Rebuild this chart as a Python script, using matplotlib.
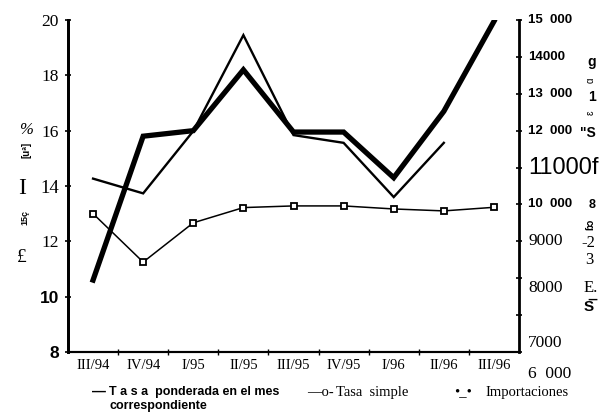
import matplotlib
matplotlib.use("Agg")
import matplotlib.pyplot as plt

# quarters on the x axis
quarters = ["III/94", "IV/94", "I/95", "II/95", "III/95", "IV/95", "I/96", "II/96", "III/96"]

# left axis, percent
tasa_ponderada = [10.6, 15.8, 16.0, 18.2, 15.95, 15.95, 14.3, 16.7, 19.95]
tasa_simple = [13.0, 11.25, 12.67, 13.22, 13.28, 13.28, 13.17, 13.1, 13.23]

# right axis, imports (one value missing at the end)
importaciones = [10700, 10300, 11990, 14590, 11880, 11670, 10200, 11670]

left_ticks = [8, 10, 12, 14, 16, 18, 20]
right_ticks = [6000, 7000, 8000, 9000, 10000, 11000, 12000, 13000, 14000, 15000]
right_labels = ["6  000", "7000", "8000", "9000", "10  000", "11000f",
                "12  000", "13  000", "14000", "15  000"]

W, H = 600, 419
serif = "Liberation Serif"
sans = "Liberation Sans"


def px(x, y):
    # pixel position in the picture -> figure fraction
    return x / W, 1 - y / H


fig = plt.figure(figsize=(6, 4.19), dpi=100)
ax = fig.add_axes([68 / W, 1 - 352 / H, (519 - 68) / W, (352 - 20) / H])
ax2 = ax.twinx()

xs = list(range(len(quarters)))
ax.plot(xs, tasa_ponderada, color="black", lw=3.8, solid_joinstyle="miter", zorder=3)
ax.plot(xs, tasa_simple, color="black", lw=1.1, marker="s", markersize=5,
        markerfacecolor="white", markeredgecolor="black", markeredgewidth=1.3, zorder=4)
ax2.plot(xs[:len(importaciones)], importaciones, color="black", lw=1.7,
         solid_joinstyle="miter")

ax.set_xlim(-0.5, len(quarters) - 0.5)
ax.set_ylim(8, 20)
ax2.set_ylim(6000, 15000)

# x axis: labels under the points, small marks between quarters
ax.set_xticks(xs)
ax.set_xticklabels(quarters, fontfamily=serif, fontsize=10.5)
ax.tick_params(axis="x", length=0, pad=5)
ax.set_xticks([i + 0.5 for i in xs[:-1]], minor=True)
ax.tick_params(axis="x", which="minor", direction="inout", length=5, width=1)

ax.set_yticks(left_ticks)
ax.set_yticklabels([str(v) for v in left_ticks])
ax.tick_params(axis="y", direction="inout", length=5, width=1.2, pad=4)
for lab, v in zip(ax.get_yticklabels(), left_ticks):
    if v <= 10:
        lab.set_fontfamily(sans)
        lab.set_fontweight("bold")
        lab.set_fontsize(12.5)
    else:
        lab.set_fontfamily(serif)
        lab.set_fontsize(13.5 if v == 14 else 12.5)

ax2.set_yticks(right_ticks)
ax2.set_yticklabels([])
ax2.tick_params(axis="y", direction="inout", length=5, width=1.2)

# right tick labels in the mixed fonts of the scan
shift = {7000: -760, 6000: -600, 8000: -270}
for v, lab in zip(right_ticks, right_labels):
    y = v + shift.get(v, 0)
    if v == 11000:
        kw = dict(fontfamily=sans, fontsize=17)
    elif v in (10000, 12000, 13000, 14000, 15000):
        kw = dict(fontfamily=sans, fontweight="bold", fontsize=9.5)
    else:
        kw = dict(fontfamily=serif, fontsize=12.5)
    ax2.text(1.02, y, lab, transform=ax2.get_yaxis_transform(), ha="left",
             va="center", clip_on=False, **kw)

for a in (ax, ax2):
    a.spines["top"].set_visible(False)
    a.spines["left"].set_linewidth(2)
    a.spines["right"].set_linewidth(2)
    a.spines["bottom"].set_linewidth(1.5)
ax.spines["right"].set_visible(False)

# scanned axis titles (garbled in the source)
fig.text(*px(26, 130), "%", fontfamily=serif, fontsize=12,
         ha="center", va="center", style="italic")
fig.text(*px(26, 150), "[uª]", fontfamily=sans, fontweight="bold", fontsize=7,
         rotation=90, ha="center", va="center")
fig.text(*px(22, 188), "I", fontfamily=serif, fontsize=17, ha="center", va="center")
fig.text(*px(25, 217), "15ç", fontfamily=sans, fontweight="bold", fontsize=6.5,
         rotation=90, ha="center", va="center")
fig.text(*px(22, 257), "£", fontfamily=serif, fontsize=14, ha="center", va="center")

fig.text(*px(592, 62), "g", fontfamily=sans, fontweight="bold", fontsize=10,
         ha="center", va="center")
fig.text(*px(591, 80), "ɑ", fontfamily=sans, fontsize=7, rotation=90,
         ha="center", va="center")
fig.text(*px(592, 97), "1", fontfamily=sans, fontweight="bold", fontsize=10,
         ha="center", va="center")
fig.text(*px(591, 113), "ɛ", fontfamily=sans, fontsize=7, rotation=90,
         ha="center", va="center")
fig.text(*px(588, 133), "\"S", fontfamily=sans, fontweight="bold", fontsize=10,
         ha="center", va="center")
fig.text(*px(592, 205), "8", fontfamily=sans, fontweight="bold", fontsize=9,
         ha="center", va="center")
fig.text(*px(590, 224), "ɓɔ", fontfamily=sans, fontweight="bold", fontsize=7,
         rotation=90, ha="center", va="center")
fig.text(*px(588, 243), "-2", fontfamily=serif, fontsize=12, ha="center", va="center")
fig.text(*px(589, 260), "3", fontfamily=serif, fontsize=12, ha="center", va="center")
fig.text(*px(591, 288), "E.", fontfamily=serif, fontsize=12, ha="center", va="center")
fig.text(*px(589, 307), "S\u0305", fontfamily=sans, fontweight="bold", fontsize=11,
         ha="center", va="center")

# legend as printed
ly = 392
fig.text(*px(92, ly), "—", fontfamily=sans, fontweight="bold", fontsize=10,
         ha="left", va="center")
fig.text(*px(109, ly), "T a s a  ponderada en el mes", fontfamily=sans,
         fontweight="bold", fontsize=9, ha="left", va="center")
fig.text(*px(110, ly + 14), "correspondiente", fontfamily=sans,
         fontweight="bold", fontsize=9, ha="left", va="center")
fig.text(*px(307, ly), "—o-", fontfamily=serif, fontsize=10.5, ha="left", va="center")
fig.text(*px(336, ly), "Tasa  simple", fontfamily=serif, fontsize=10.5,
         ha="left", va="center")
fig.text(*px(454, ly), "•_•", fontfamily=serif, fontsize=10.5, ha="left", va="center")
fig.text(*px(485, ly), "Importaciones", fontfamily=serif, fontsize=10.5,
         ha="left", va="center")

fig.savefig("out.png", dpi=100)
